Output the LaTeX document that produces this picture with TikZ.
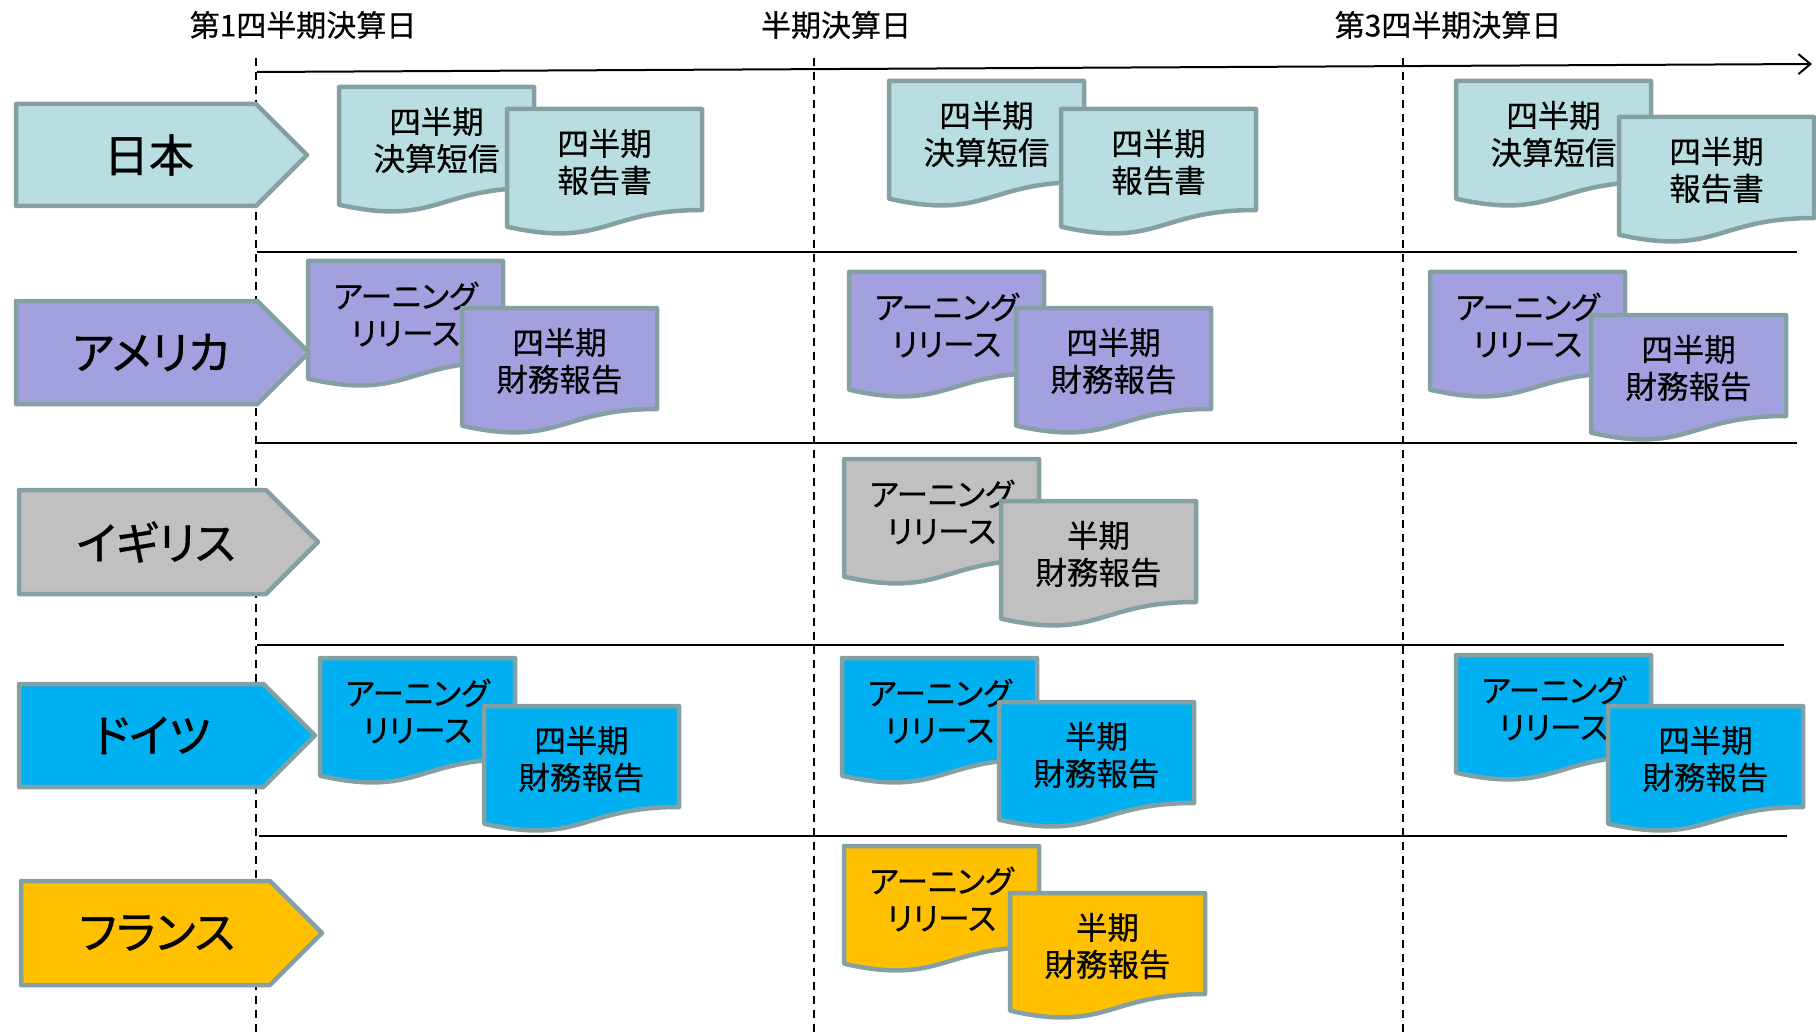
\documentclass[tikz,border=0pt]{standalone}
\usepackage{fontspec}
\setmainfont{Noto Sans CJK JP}[RawFeature={+palt},FakeBold=0.4]
\newfontfamily\cjkbold{Noto Sans CJK JP}[RawFeature={+palt},FakeBold=0.8]
\usetikzlibrary{arrows.meta}
\definecolor{edgec}{RGB}{132,160,162}
\definecolor{jpfill}{RGB}{185,222,226}
\definecolor{usfill}{RGB}{162,160,222}
\definecolor{ukfill}{RGB}{192,192,192}
\definecolor{defill}{RGB}{0,176,240}
\definecolor{frfill}{RGB}{255,192,0}
\tikzset{
  docline/.style={draw=edgec, line width=4.5pt, line join=round},
  doctext/.style={font=\fontsize{31.5}{37}\selectfont, align=center, inner sep=0pt},
  ctrylabel/.style={font=\cjkbold\fontsize{45}{50}\selectfont, inner sep=0pt},
  headtext/.style={font=\fontsize{30}{36}\selectfont, inner sep=0pt},
  dateline/.style={draw=black, line width=1.6pt, dash pattern=on 8pt off 6pt},
  sepline/.style={draw=black, line width=2.2pt},
  timeline/.style={draw=black, line width=2pt, -{Straight Barb[length=12pt,width=20pt,line width=2pt]}}
}
% document shape: name, left, top, fill, text
\newcommand{\docbox}[5]{%
  \pgfmathsetmacro{\dR}{#2+195}%
  \pgfmathsetmacro{\dM}{#2+97.5}%
  \pgfmathsetmacro{\yA}{#3+101}%
  \pgfmathsetmacro{\yB}{#3+139.6}%
  \pgfmathsetmacro{\yC}{#3+117.7}%
  \pgfmathsetmacro{\yT}{#3+53}%
  \path[docline, fill=#4] (#2,#3) -- (\dR,#3) -- (\dR,\yA) .. controls (\dM,\yA) and (\dM,\yB) .. (#2,\yC) -- cycle;
  \node[doctext] (#1) at (\dM,\yT) {#5};
}
% country arrow: name, left, top, tip x, bottom, fill, text x, text
\newcommand{\ctrybox}[8]{%
  \pgfmathsetmacro{\cM}{(#3+#5)/2}%
  \pgfmathsetmacro{\cS}{#4-(#5-#3)/2}%
  \path[docline, fill=#6] (#2,#3) -- (\cS,#3) -- (#4,\cM) -- (\cS,#5) -- (#2,#5) -- cycle;
  \node[ctrylabel] (#1) at (#7,\cM) {#8};
}
\begin{document}
\begin{tikzpicture}[x=1pt,y=-1pt]
\useasboundingbox (0,0) rectangle (1816,1035);
% headers
\node[headtext] (h1) at (303,25) {第1四半期決算日};
\node[headtext] (h2) at (836,25) {半期決算日};
\node[headtext] (h3) at (1448,25) {第3四半期決算日};
% date lines
\coordinate (d1t) at (256,58); \coordinate (d1b) at (256,1035);
\coordinate (d2t) at (814,58); \coordinate (d2b) at (814,1035);
\coordinate (d3t) at (1403,58); \coordinate (d3b) at (1403,1035);
\draw[dateline] (d1t) -- (d1b);
\draw[dateline] (d2t) -- (d2b);
\draw[dateline] (d3t) -- (d3b);
% timeline
\coordinate (ts) at (257,72); \coordinate (te) at (1812,64);
\draw[timeline] (ts) -- (te);
% separators
\coordinate (s1a) at (257,252); \coordinate (s1b) at (1797,252);
\coordinate (s2a) at (257,443); \coordinate (s2b) at (1797,443);
\coordinate (s3a) at (257,645); \coordinate (s3b) at (1784,645);
\coordinate (s4a) at (259,836); \coordinate (s4b) at (1787,836);
\draw[sepline] (s1a) -- (s1b);
\draw[sepline] (s2a) -- (s2b);
\draw[sepline] (s3a) -- (s3b);
\draw[sepline] (s4a) -- (s4b);
% countries
\ctrybox{jp}{16}{104}{307}{206}{jpfill}{149}{日本}
\ctrybox{us}{16}{301}{309}{404}{usfill}{151}{アメリカ}
\ctrybox{uk}{19}{490}{318}{594}{ukfill}{156}{イギリス}
\ctrybox{de}{19}{684}{315}{787}{defill}{152}{ドイツ}
\ctrybox{fr}{21}{881}{322}{985}{frfill}{157}{フランス}
% Japan
\docbox{j1a}{339}{87}{jpfill}{四半期\\決算短信}
\docbox{j1b}{507}{109}{jpfill}{四半期\\報告書}
\docbox{j2a}{889}{81}{jpfill}{四半期\\決算短信}
\docbox{j2b}{1061}{109}{jpfill}{四半期\\報告書}
\docbox{j3a}{1456}{81}{jpfill}{四半期\\決算短信}
\docbox{j3b}{1619}{117}{jpfill}{四半期\\報告書}
% USA
\docbox{u1a}{308}{261}{usfill}{アーニング\\リリース}
\docbox{u1b}{462}{308}{usfill}{四半期\\財務報告}
\docbox{u2a}{849}{272}{usfill}{アーニング\\リリース}
\docbox{u2b}{1016}{308}{usfill}{四半期\\財務報告}
\docbox{u3a}{1430}{272}{usfill}{アーニング\\リリース}
\docbox{u3b}{1591}{315}{usfill}{四半期\\財務報告}
% UK
\docbox{k2a}{844}{459}{ukfill}{アーニング\\リリース}
\docbox{k2b}{1001}{501}{ukfill}{半期\\財務報告}
% Germany
\docbox{g1a}{320}{658}{defill}{アーニング\\リリース}
\docbox{g1b}{484}{706}{defill}{四半期\\財務報告}
\docbox{g2a}{842}{658}{defill}{アーニング\\リリース}
\docbox{g2b}{999}{702}{defill}{半期\\財務報告}
\docbox{g3a}{1456}{655}{defill}{アーニング\\リリース}
\docbox{g3b}{1608}{706}{defill}{四半期\\財務報告}
% France
\docbox{f2a}{844}{846}{frfill}{アーニング\\リリース}
\docbox{f2b}{1010}{893}{frfill}{半期\\財務報告}
\end{tikzpicture}
\end{document}
